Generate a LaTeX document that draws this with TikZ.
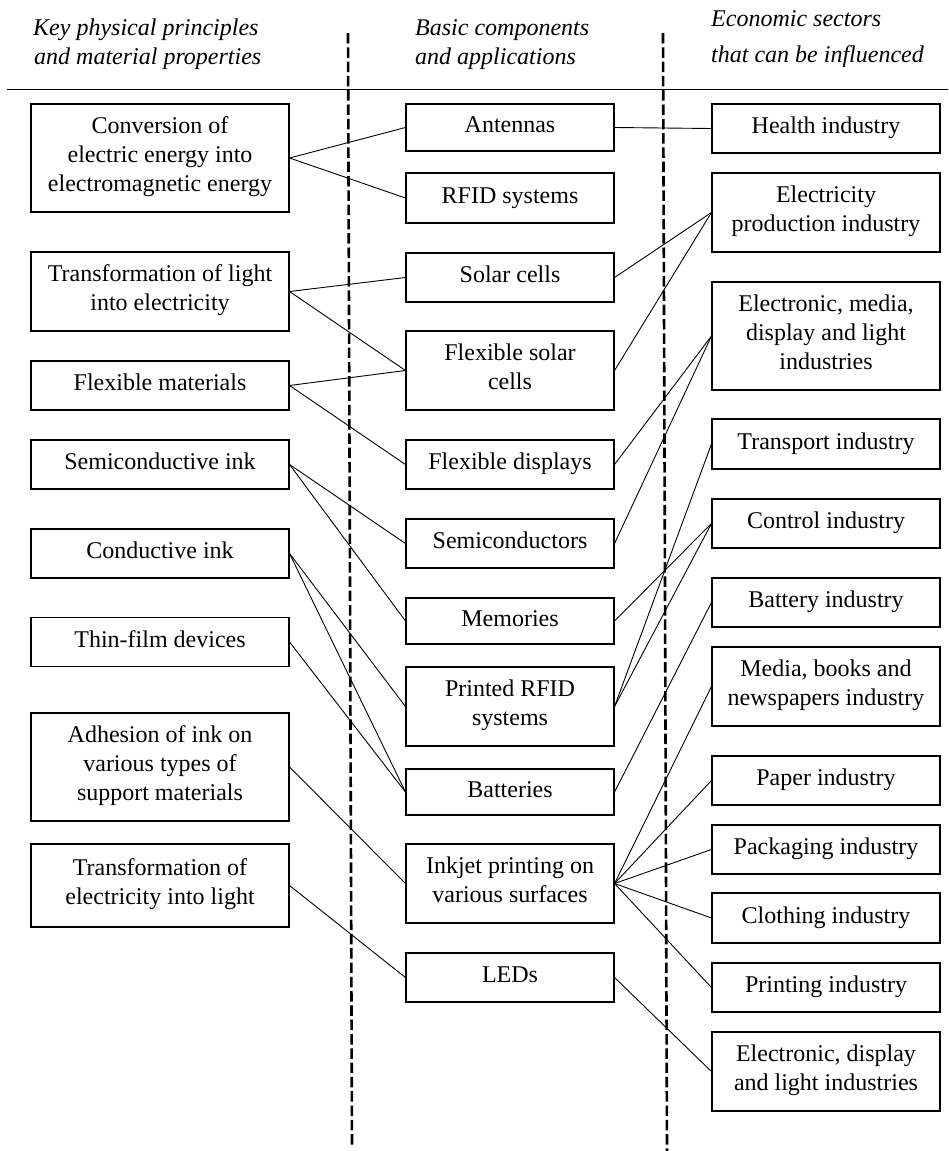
\documentclass[tikz,border=0pt]{standalone}
\usepackage{fontspec}
\setmainfont{Liberation Serif}
\newcommand\boxstrut{\rule[-8pt]{0pt}{26pt}}
\begin{document}
\begin{tikzpicture}[x=1pt,y=-1pt,
  every node/.style={font=\fontsize{24}{29}\selectfont},
  box/.style={draw, line width=1.1pt, inner sep=0pt, align=center,
    execute at begin node=\boxstrut, execute at end node=\boxstrut},
  colA/.style={box, minimum width=258pt},
  colB/.style={box, minimum width=208pt},
  colC/.style={box, minimum width=228pt},
  head/.style={anchor=base west, inner sep=0pt, font=\fontsize{24}{29}\selectfont\itshape},
  link/.style={line width=0.9pt},
  divider/.style={line width=2.6pt, dash pattern=on 10.5pt off 3.8pt}]
\useasboundingbox (0,0) rectangle (948,1151);

% column headings
\node[head] (hA1) at (33,35) {Key physical principles};
\node[head] (hA2) at (34,64) {and material properties};
\node[head] (hB1) at (415,35) {Basic components};
\node[head] (hB2) at (415,64) {and applications};
\node[head] (hC1) at (711,26) {Economic sectors};
\node[head] (hC2) at (711,62) {that can be influenced};

% heading rule and column dividers
\coordinate (ruleL) at (7,89.3);
\coordinate (ruleR) at (948,89.3);
\draw[line width=1.2pt] (ruleL) -- (ruleR);
\coordinate (d1t) at (348,33);
\coordinate (d1b) at (352,1148);
\coordinate (d2t) at (663,33);
\coordinate (d2b) at (667,1151);
\draw[divider] (d1t) -- (d1b);
\draw[divider] (d2t) -- (d2b);

% principles and properties
\node[colA, minimum height=108pt] (a1) at (160,158) {Conversion of\\electric energy into\\electromagnetic energy};
\node[colA, minimum height=79pt] (a2) at (160,291.5) {Transformation of light\\into electricity};
\node[colA, minimum height=49pt] (a3) at (160,385.5) {Flexible materials};
\node[colA, minimum height=49pt] (a4) at (160,464.5) {Semiconductive ink};
\node[colA, minimum height=49pt] (a5) at (160,553.5) {Conductive ink};
\node[colA, minimum height=49pt] (a6) at (160,642) {Thin-film devices};
\node[colA, minimum height=108pt] (a7) at (160,767) {Adhesion of ink on\\various types of\\support materials};
\node[colA, minimum height=83pt] (a8) at (160,885.5) {Transformation of\\electricity into light};

% components and applications
\node[colB, minimum height=47pt] (b1) at (510,127.5) {Antennas};
\node[colB, minimum height=50pt] (b2) at (510,198) {RFID systems};
\node[colB, minimum height=49pt] (b3) at (510,277.5) {Solar cells};
\node[colB, minimum height=79pt] (b4) at (510,370.5) {Flexible solar\\cells};
\node[colB, minimum height=49pt] (b5) at (510,464.5) {Flexible displays};
\node[colB, minimum height=49pt] (b6) at (510,543.5) {Semiconductors};
\node[colB, minimum height=46pt] (b7) at (510,621) {Memories};
\node[colB, minimum height=79pt] (b8) at (510,706.5) {Printed RFID\\systems};
\node[colB, minimum height=46pt] (b9) at (510,792) {Batteries};
\node[colB, minimum height=79pt] (b10) at (510,883.5) {Inkjet printing on\\various surfaces};
\node[colB, minimum height=49pt] (b11) at (510,977.5) {LEDs};

% economic sectors
\node[colC, minimum height=49pt] (c1) at (826,128.5) {Health industry};
\node[colC, minimum height=79pt] (c2) at (826,212.5) {Electricity\\production industry};
\node[colC, minimum height=108pt] (c3) at (826,336) {Electronic, media,\\display and light\\industries};
\node[colC, minimum height=50pt] (c4) at (826,444) {Transport industry};
\node[colC, minimum height=49pt] (c5) at (826,523.5) {Control industry};
\node[colC, minimum height=49pt] (c6) at (826,602.5) {Battery industry};
\node[colC, minimum height=79pt] (c7) at (826,686.5) {Media, books and\\newspapers industry};
\node[colC, minimum height=49pt] (c8) at (826,780.5) {Paper industry};
\node[colC, minimum height=49pt] (c9) at (826,849.5) {Packaging industry};
\node[colC, minimum height=50pt] (c10) at (826,918) {Clothing industry};
\node[colC, minimum height=49pt] (c11) at (826,987.5) {Printing industry};
\node[colC, minimum height=79pt] (c12) at (826,1071.5) {Electronic, display\\and light industries};

% principles -> components
\foreach \s/\t in {a1/b1, a1/b2, a2/b3, a2/b4, a3/b4, a3/b5, a4/b6, a4/b7,
                   a5/b8, a5/b9, a6/b9, a7/b10, a8/b11}
  \draw[link] (\s.east) -- (\t.west);

% components -> sectors
\foreach \s/\t in {b1/c1, b3/c2, b4/c2, b5/c3, b6/c3, b7/c5, b8/c4, b8/c5,
                   b9/c6, b10/c7, b10/c8, b10/c9, b10/c10, b10/c11, b11/c12}
  \draw[link] (\s.east) -- (\t.west);
\end{tikzpicture}
\end{document}
